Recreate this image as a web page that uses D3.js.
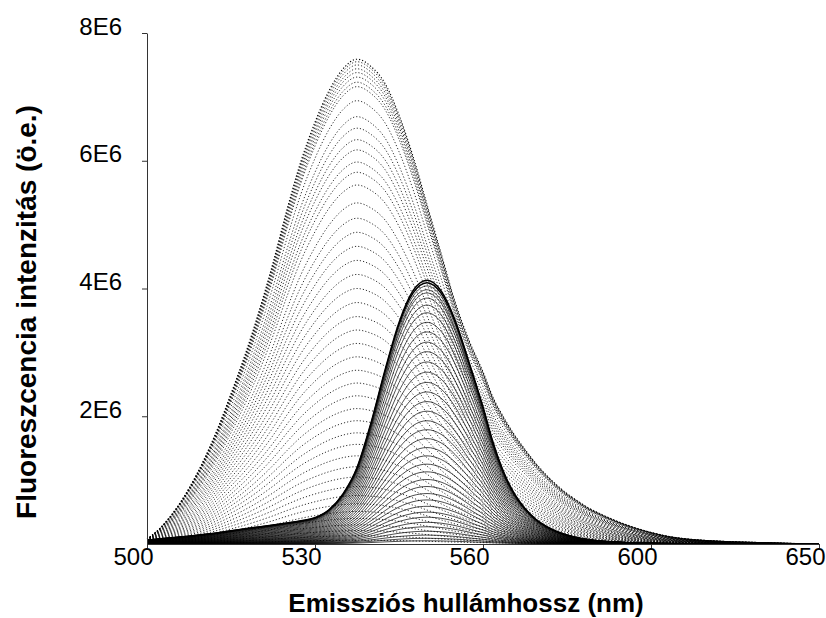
<!DOCTYPE html>
<html lang="hu">
<head>
<meta charset="UTF-8">
<title>Fluoreszcencia spektrumok</title>
<script src="https://d3js.org/d3.v7.min.js"></script>
<style>
    body, html {
        margin: 0;
        padding: 0;
        background: #fff;
        overflow: hidden;
    }
    text {
        font-family: Arial, "Liberation Sans", sans-serif;
    }
</style>
</head>
<body>
<svg id="chart" width="826" height="618"></svg>
<script>
    // wavelengths (nm) where the spectra were read
    const wavelengths = [500, 502.5, 505, 507.5, 510, 512.5, 515, 517.5, 520, 522.5,
        525, 527.5, 530, 532.5, 535, 537.5, 540, 542.5, 545, 547.5,
        550, 552.5, 555, 557.5, 560, 562.5, 565, 567.5, 570, 572.5,
        575, 577.5, 580, 582.5, 585, 587.5, 590, 592.5, 595, 597.5,
        600, 605, 610, 615, 620, 625, 630, 635, 640, 645, 650];

    // normalised shape of the broad (dotted) spectra
    const shapeDotted = [0.01, 0.035, 0.07, 0.115, 0.17, 0.235, 0.31, 0.39, 0.48, 0.58,
        0.69, 0.79, 0.87, 0.935, 0.98, 1.0, 0.985, 0.95, 0.885, 0.8,
        0.7, 0.6, 0.5, 0.42, 0.355, 0.3, 0.26, 0.225, 0.195, 0.167,
        0.143, 0.122, 0.104, 0.089, 0.075, 0.064, 0.054, 0.045, 0.037, 0.03,
        0.024, 0.016, 0.011, 0.008, 0.006, 0.0045, 0.0035, 0.0025, 0.0015, 0.0008, 0];

    // normalised shape of the narrow (solid) spectra
    const shapeSolid = [0.015, 0.02, 0.025, 0.03, 0.036, 0.042, 0.05, 0.058, 0.065, 0.072,
        0.08, 0.088, 0.1, 0.13, 0.19, 0.29, 0.46, 0.66, 0.84, 0.96,
        1.0, 0.96, 0.85, 0.69, 0.52, 0.38, 0.27, 0.19, 0.135, 0.095,
        0.068, 0.048, 0.034, 0.024, 0.017, 0.012, 0.009, 0.007, 0.005, 0.004,
        0.003, 0.002, 0.001, 0.0005, 0, 0, 0, 0, 0, 0, 0];

    // peak intensity of each spectrum (E6 units)
    const peaksDotted = [7.59, 7.55, 7.50, 7.44, 7.38, 7.31, 7.23, 7.16, 6.94, 6.69,
        6.51, 6.33, 6.17, 5.98, 5.82, 5.62, 5.34, 5.10, 4.88, 4.66,
        4.44, 4.22, 4.0, 3.78, 3.56, 3.35, 3.14, 2.93, 2.72, 2.52,
        2.32, 2.12, 1.93, 1.74, 1.56, 1.38, 1.21, 1.05, 0.9, 0.76,
        0.63, 0.51, 0.40, 0.30, 0.21, 0.13, 0.06];

    const peaksSolid = [4.13, 4.09, 4.04, 3.98, 3.93, 3.85, 3.74, 3.62, 3.47, 3.32,
        3.16, 3.01, 2.85, 2.69, 2.53, 2.38, 2.23, 2.08, 1.93, 1.79,
        1.65, 1.51, 1.38, 1.25, 1.13, 1.01, 0.90, 0.79, 0.69, 0.59,
        0.50, 0.42, 0.34, 0.27, 0.20, 0.14, 0.09, 0.05];

    const xTicks = [500, 530, 560, 600, 650];
    const yTicks = [2e6, 4e6, 6e6, 8e6];

    const svg = d3.select("#chart");

    // the x axis has equally spaced, unevenly valued ticks
    const x = d3.scaleLinear()
        .domain(xTicks)
        .range([147, 315, 483, 651, 819]);

    const y = d3.scaleLinear()
        .domain([0, 8e6])
        .range([544, 33]);

    const line = d3.line()
        .x(d => x(d[0]))
        .y(d => y(d[1]))
        .curve(d3.curveMonotoneX);

    function spectrum(shape, peak) {
        return wavelengths.map((w, i) => [w, shape[i] * peak * 1e6]);
    }

    // dotted spectra
    svg.append("g")
        .selectAll("path")
        .data(peaksDotted)
        .enter().append("path")
        .attr("d", p => line(spectrum(shapeDotted, p)))
        .attr("fill", "none")
        .attr("stroke", "#000")
        .attr("stroke-width", (p, i) => i === 0 ? 1.1 : 0.8)
        .attr("stroke-dasharray", "1.2,2");

    // solid spectra
    svg.append("g")
        .selectAll("path")
        .data(peaksSolid)
        .enter().append("path")
        .attr("d", p => line(spectrum(shapeSolid, p)))
        .attr("fill", "none")
        .attr("stroke", "#000")
        .attr("stroke-width", (p, i) => i < 2 ? 1.4 : 0.7);

    // axes
    const xAxis = svg.append("g")
        .attr("transform", "translate(0,544)")
        .call(d3.axisBottom(x).tickValues(xTicks).tickSize(4).tickSizeOuter(0).tickFormat(d3.format("d")));

    xAxis.selectAll("text")
        .attr("font-size", "24px")
        .attr("fill", "#000")
        .attr("dx", "-14")
        .attr("dy", "0.6em");

    const yAxis = svg.append("g")
        .attr("transform", "translate(147,0)")
        .call(d3.axisLeft(y).tickValues(yTicks).tickSize(5).tickSizeOuter(0).tickFormat(d => (d / 1e6) + "E6"));

    yAxis.selectAll("text")
        .attr("font-size", "24px")
        .attr("fill", "#000")
        .attr("x", -25)
        .attr("dy", "0.05em");

    svg.selectAll(".domain, .tick line")
        .attr("stroke", "#333");

    // axis titles
    svg.append("text")
        .attr("x", 466)
        .attr("y", 612)
        .attr("text-anchor", "middle")
        .attr("font-size", "26px")
        .attr("font-weight", "bold")
        .text("Emissziós hullámhossz (nm)");

    svg.append("text")
        .attr("transform", "translate(36,312) rotate(-90)")
        .attr("text-anchor", "middle")
        .attr("font-size", "28px")
        .attr("font-weight", "bold")
        .text("Fluoreszcencia intenzitás (ö.e.)");
</script>
</body>
</html>
